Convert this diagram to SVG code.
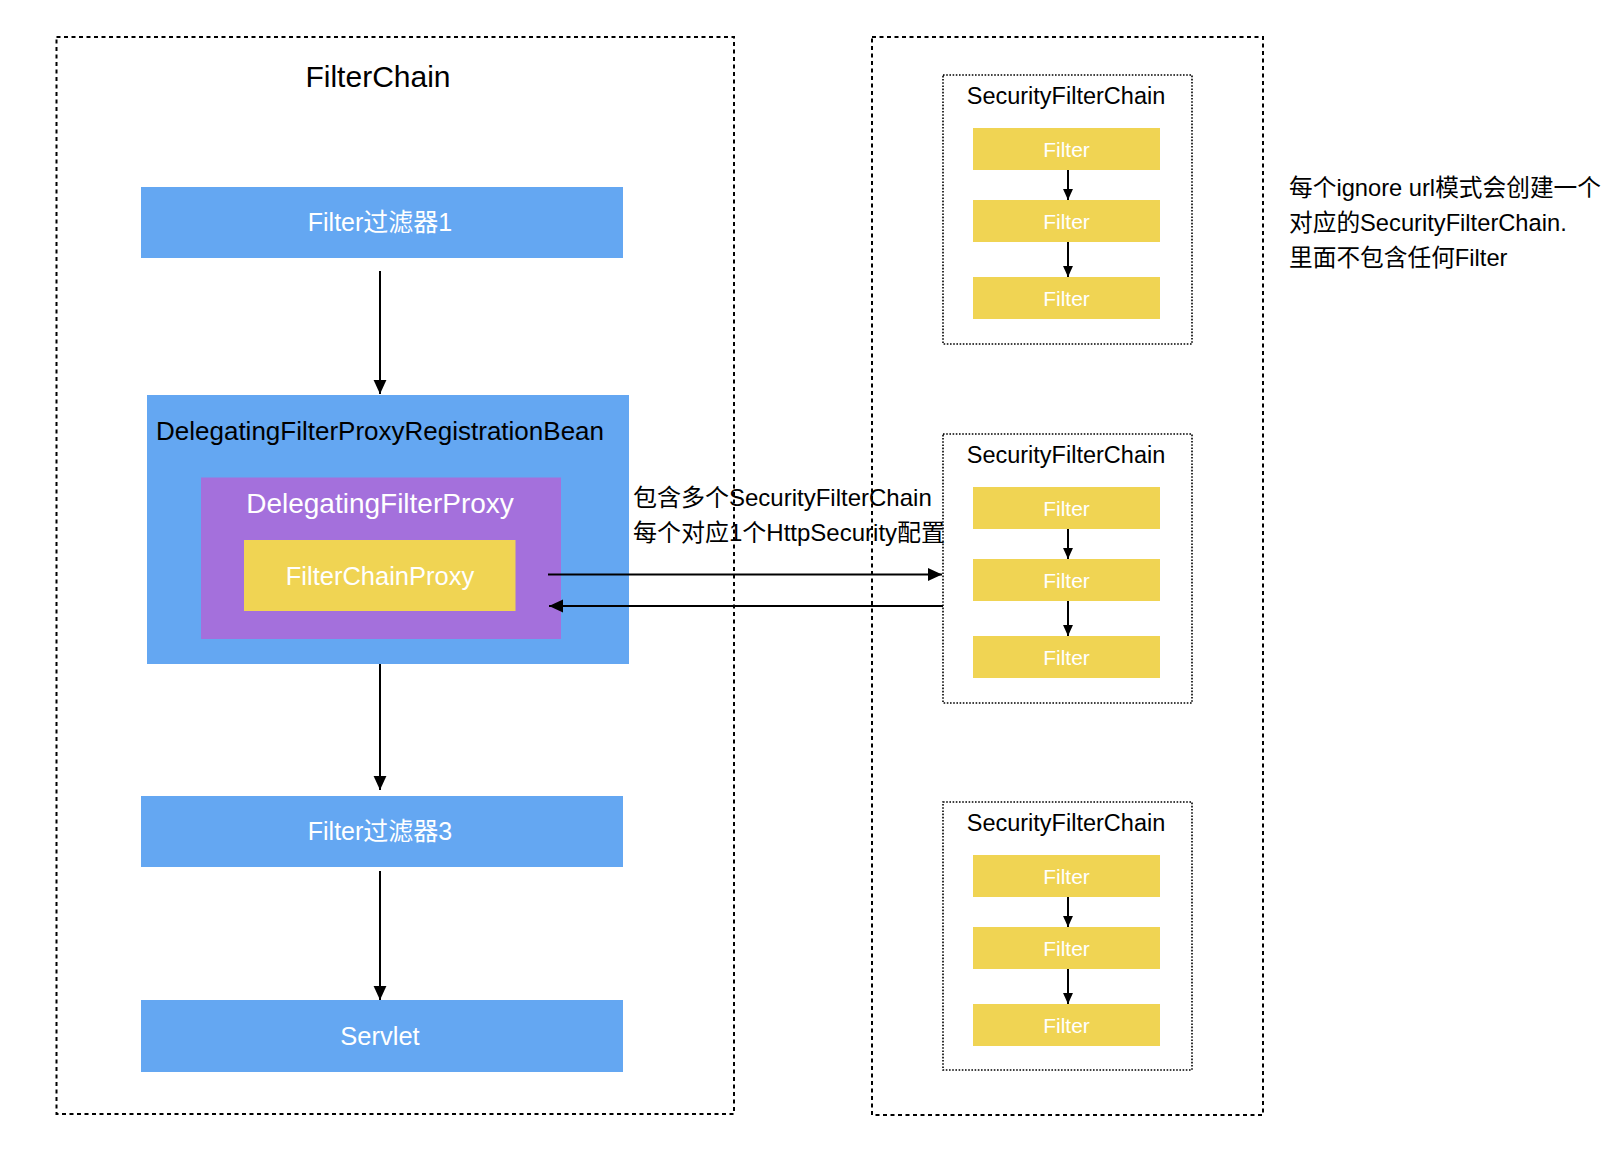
<svg xmlns="http://www.w3.org/2000/svg" width="1610" height="1156" viewBox="0 0 1610 1156">
  <defs>
    <marker id="arrow" markerUnits="userSpaceOnUse" markerWidth="14" markerHeight="14" viewBox="0 0 12 12" refX="12" refY="6" orient="auto">
      <path d="M0,0.5 L12,6 L0,11.5 Z" fill="#000"/>
    </marker>
    <marker id="arrowS" markerUnits="userSpaceOnUse" markerWidth="11" markerHeight="11" viewBox="0 0 10 10" refX="10" refY="5" orient="auto">
      <path d="M0,0.5 L10,5 L0,9.5 Z" fill="#000"/>
    </marker>
  </defs>
  <style>
    text { font-family: "Liberation Sans", "Noto Sans CJK SC", sans-serif; }
    .outer { fill: none; stroke: #000; stroke-width: 2; stroke-dasharray: 4 3.5; }
    .inner { fill: none; stroke: #000; stroke-width: 1.6; stroke-dasharray: 1.6 1.6; }
    .blue { fill: #64A7F2; }
    .purple { fill: #A470DC; }
    .yellow { fill: #F0D453; }
    .wt { fill: #fff; text-anchor: middle; }
    .bk { fill: #000; }
    .conn line { stroke: #000; stroke-width: 2; }
  </style>
  <rect width="1610" height="1156" fill="#fff"/>

  <g id="filterchain-container">
    <rect class="outer" x="56.5" y="37" width="677.5" height="1077"/>
    <text class="bk" x="378" y="87" font-size="30" text-anchor="middle">FilterChain</text>
  </g>

  <g id="filter1">
    <rect class="blue" x="141" y="187" width="482" height="71"/>
    <text class="wt" x="380" y="231" font-size="25">Filter过滤器1</text>
  </g>

  <g id="registration-bean">
    <rect class="blue" x="147" y="395" width="482" height="269"/>
    <text class="bk" x="156" y="440" font-size="26">DelegatingFilterProxyRegistrationBean</text>
  </g>

  <g id="delegating-filter-proxy">
    <rect class="purple" x="201" y="477.5" width="360" height="161.5"/>
    <text class="wt" x="380" y="513" font-size="28">DelegatingFilterProxy</text>
  </g>

  <g id="filter-chain-proxy">
    <rect class="yellow" x="244" y="540" width="271.5" height="71"/>
    <text class="wt" x="380" y="585" font-size="25.5">FilterChainProxy</text>
  </g>

  <g id="filter3">
    <rect class="blue" x="141" y="796" width="482" height="71"/>
    <text class="wt" x="380" y="840" font-size="25">Filter过滤器3</text>
  </g>

  <g id="servlet">
    <rect class="blue" x="141" y="1000" width="482" height="72"/>
    <text class="wt" x="380" y="1045" font-size="25.5">Servlet</text>
  </g>

  <g id="security-container">
    <rect class="outer" x="872" y="37" width="391" height="1078"/>
  </g>

  <g id="sfc1">
    <rect class="inner" x="943" y="75" width="249" height="269"/>
    <text class="bk" x="1066" y="104" font-size="23.5" text-anchor="middle">SecurityFilterChain</text>
    <rect class="yellow" x="973" y="128" width="187" height="42"/>
    <text class="wt" x="1066.5" y="157" font-size="21">Filter</text>
    <rect class="yellow" x="973" y="200" width="187" height="42"/>
    <text class="wt" x="1066.5" y="229" font-size="21">Filter</text>
    <rect class="yellow" x="973" y="277" width="187" height="42"/>
    <text class="wt" x="1066.5" y="306" font-size="21">Filter</text>
  </g>

  <g id="sfc2">
    <rect class="inner" x="943" y="434" width="249" height="269"/>
    <text class="bk" x="1066" y="463" font-size="23.5" text-anchor="middle">SecurityFilterChain</text>
    <rect class="yellow" x="973" y="487" width="187" height="42"/>
    <text class="wt" x="1066.5" y="516" font-size="21">Filter</text>
    <rect class="yellow" x="973" y="559" width="187" height="42"/>
    <text class="wt" x="1066.5" y="588" font-size="21">Filter</text>
    <rect class="yellow" x="973" y="636" width="187" height="42"/>
    <text class="wt" x="1066.5" y="665" font-size="21">Filter</text>
  </g>

  <g id="sfc3">
    <rect class="inner" x="943" y="802" width="249" height="268"/>
    <text class="bk" x="1066" y="831" font-size="23.5" text-anchor="middle">SecurityFilterChain</text>
    <rect class="yellow" x="973" y="855" width="187" height="42"/>
    <text class="wt" x="1066.5" y="884" font-size="21">Filter</text>
    <rect class="yellow" x="973" y="927" width="187" height="42"/>
    <text class="wt" x="1066.5" y="956" font-size="21">Filter</text>
    <rect class="yellow" x="973" y="1004" width="187" height="42"/>
    <text class="wt" x="1066.5" y="1033" font-size="21">Filter</text>
  </g>

  <g id="labels">
    <text class="bk" x="633" y="506" font-size="24">包含多个SecurityFilterChain</text>
    <text class="bk" x="633" y="541" font-size="24">每个对应1个HttpSecurity配置</text>
    <text class="bk" x="1289" y="196" font-size="23.7">每个ignore url模式会创建一个</text>
    <text class="bk" x="1289" y="231" font-size="23.7">对应的SecurityFilterChain.</text>
    <text class="bk" x="1289" y="266" font-size="23.7">里面不包含任何Filter</text>
  </g>

  <g id="connectors" class="conn">
    <line x1="380" y1="271" x2="380" y2="394" marker-end="url(#arrow)"/>
    <line x1="380" y1="664" x2="380" y2="790" marker-end="url(#arrow)"/>
    <line x1="380" y1="871" x2="380" y2="1000" marker-end="url(#arrow)"/>
    <line x1="548" y1="574.5" x2="942" y2="574.5" marker-end="url(#arrow)"/>
    <line x1="943" y1="606" x2="549" y2="606" marker-end="url(#arrow)"/>
    <line x1="1068" y1="170" x2="1068" y2="200" marker-end="url(#arrowS)"/>
    <line x1="1068" y1="242" x2="1068" y2="277" marker-end="url(#arrowS)"/>
    <line x1="1068" y1="529" x2="1068" y2="559" marker-end="url(#arrowS)"/>
    <line x1="1068" y1="601" x2="1068" y2="636" marker-end="url(#arrowS)"/>
    <line x1="1068" y1="897" x2="1068" y2="927" marker-end="url(#arrowS)"/>
    <line x1="1068" y1="969" x2="1068" y2="1004" marker-end="url(#arrowS)"/>
  </g>
</svg>
